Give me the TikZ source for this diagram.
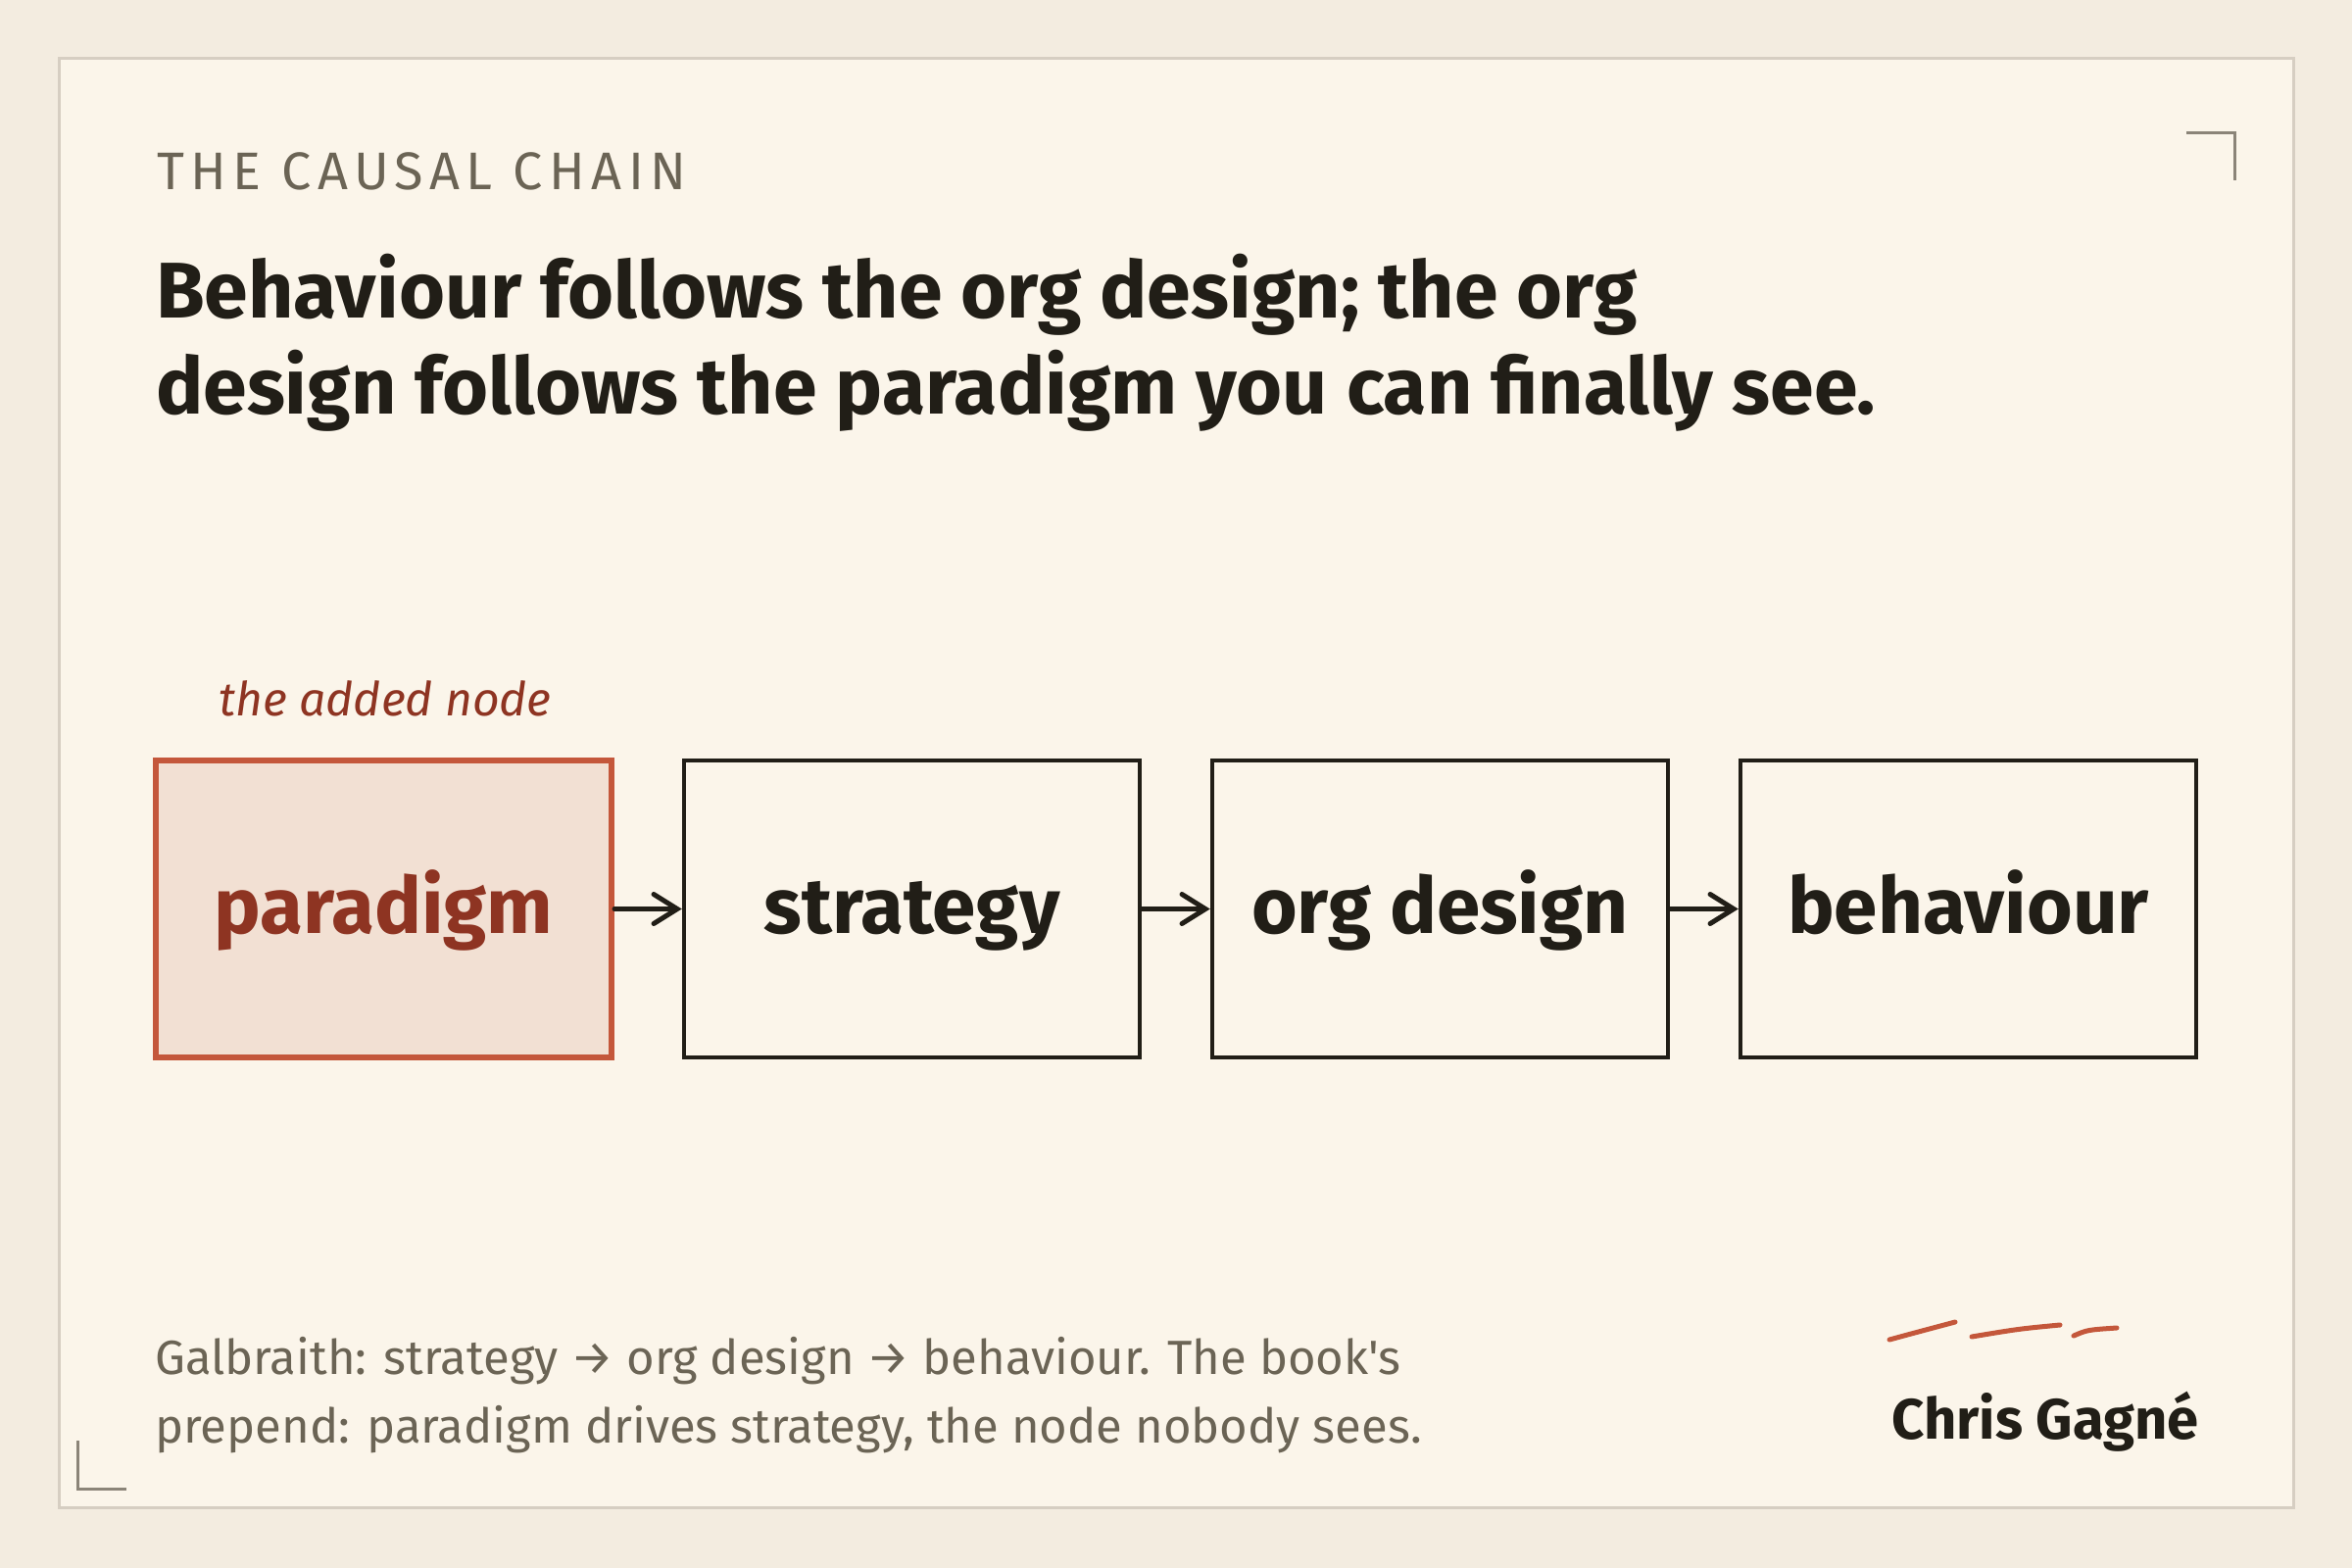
\documentclass[tikz,border=0pt]{standalone}
\usepackage{fontspec}
\setmainfont{Fira Sans}
\newfontfamily\footfont{Fira Sans}[Ligatures=TeXOff]
\usetikzlibrary{arrows.meta}
\definecolor{outerbg}{HTML}{F3ECE0}
\definecolor{cardbg}{HTML}{FBF5EA}
\definecolor{framec}{HTML}{D6CEC2}
\definecolor{ink}{HTML}{211E17}
\definecolor{muted}{HTML}{6B6455}
\definecolor{cornerc}{HTML}{8B8478}
\definecolor{rust}{HTML}{C4573B}
\definecolor{rustdark}{HTML}{8E3422}
\definecolor{rustfill}{HTML}{F2E0D3}
\begin{document}
\begin{tikzpicture}[x=1pt,y=-1pt,
  stepbox/.style={draw=ink,line width=4.5pt,fill=cardbg,minimum width=465pt,minimum height=303pt,inner sep=0pt,
    font=\fontsize{80}{90}\selectfont\bfseries,text=ink,text height=60pt,text depth=11pt},
  keybox/.style={stepbox,draw=rust,line width=6pt,fill=rustfill,text=rustdark},
  arr/.style={draw=ink,line width=5pt,line cap=round,-{Straight Barb[length=24pt,width=30pt,line cap=round]}},
  corner/.style={draw=cornerc,line width=3pt},
  sig/.style={draw=rust,line width=5pt,line cap=round},
  txt/.style={anchor=base west,inner sep=0pt}]
\useasboundingbox (0,0) rectangle (2400,1600);
\fill[outerbg] (0,0) rectangle (2400,1600);
\draw[draw=framec,line width=3pt,fill=cardbg] (60,60) rectangle (2340,1538);
% corner marks
\draw[corner] (2231,136) -- (2280,136) -- (2280,184);
\draw[corner] (79,1470) -- (79,1519) -- (129,1519);
% texts
\node[txt,text=muted,font=\fontsize{54}{60}\selectfont\addfontfeature{LetterSpace=12}] (kicker) at (160,193) {THE CAUSAL CHAIN};
\node[txt,text=ink,font=\fontsize{80.6}{90}\selectfont\bfseries] (head1) at (159,324) {Behaviour follows the org design; the org};
\node[txt,text=ink,font=\fontsize{80.6}{90}\selectfont\bfseries] (head2) at (159,422) {design follows the paradigm you can finally see.};
\node[txt,text=rustdark,font=\fontsize{48}{60}\selectfont\itshape] (tag) at (223,730) {the added node};
% boxes
\node[keybox] (p) at (391.5,927.5) {paradigm};
\node[stepbox] (s) at (930.5,927.5) {strategy};
\node[stepbox] (o) at (1469.5,927.5) {org design};
\node[stepbox] (b) at (2008.5,927.5) {behaviour};
\draw[arr] (p.east) -- (s.west);
\draw[arr] (s.east) -- (o.west);
\draw[arr] (o.east) -- (b.west);
% footer
\node[txt,text=muted,font=\footfont\fontsize{49}{60}\selectfont] (foot1) at (158,1402) {Galbraith: strategy → org design → behaviour. The book's};
\node[txt,text=muted,font=\footfont\fontsize{49}{60}\selectfont] (foot2) at (158,1472) {prepend: paradigm drives strategy, the node nobody sees.};
% signature
\draw[sig] (1928,1367) .. controls (1950,1361) .. (1995,1349);
\draw[sig] (2012,1364) .. controls (2060,1356) .. (2102,1352);
\draw[sig] (2116,1363) .. controls (2130,1357) .. (2160,1355);
\node[txt,text=ink,font=\fontsize{58}{60}\selectfont\bfseries] (name) at (1930,1468) {Chris Gagné};
\end{tikzpicture}
\end{document}
